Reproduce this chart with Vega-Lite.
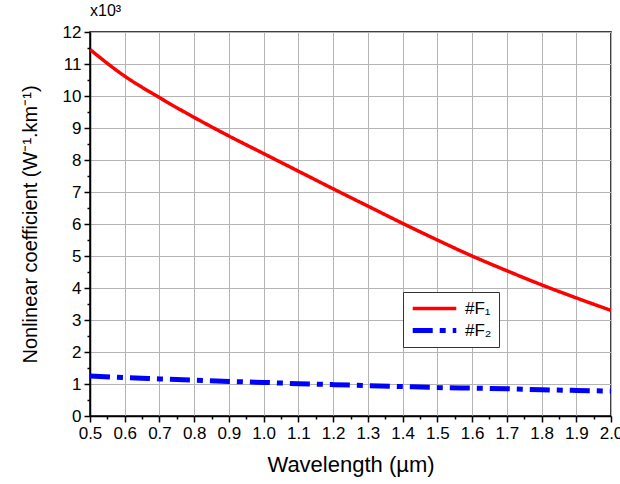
{
  "$schema": "https://vega.github.io/schema/vega-lite/v6.json",
  "width": 521,
  "height": 384,
  "padding": {"left": 20, "top": 3, "right": 0, "bottom": 2},
  "background": "white",
  "config": {
    "font": "Liberation Sans",
    "view": {"stroke": "black", "strokeWidth": 1.5}
  },
  "title": {"text": "x10³", "anchor": "start", "frame": "group", "fontSize": 16, "fontWeight": "normal", "offset": 4, "font": "Liberation Sans", "color": "black"},
  "data": {
    "values": [
      {"w": 0.5, "v": 11.45, "s": "#F₁"},
      {"w": 0.6, "v": 10.62, "s": "#F₁"},
      {"w": 0.7, "v": 9.95, "s": "#F₁"},
      {"w": 0.8, "v": 9.33, "s": "#F₁"},
      {"w": 0.9, "v": 8.75, "s": "#F₁"},
      {"w": 1.0, "v": 8.2, "s": "#F₁"},
      {"w": 1.1, "v": 7.65, "s": "#F₁"},
      {"w": 1.2, "v": 7.1, "s": "#F₁"},
      {"w": 1.3, "v": 6.56, "s": "#F₁"},
      {"w": 1.4, "v": 6.02, "s": "#F₁"},
      {"w": 1.5, "v": 5.5, "s": "#F₁"},
      {"w": 1.6, "v": 5.0, "s": "#F₁"},
      {"w": 1.7, "v": 4.54, "s": "#F₁"},
      {"w": 1.8, "v": 4.1, "s": "#F₁"},
      {"w": 1.9, "v": 3.69, "s": "#F₁"},
      {"w": 2.0, "v": 3.3, "s": "#F₁"},
      {"w": 0.5, "v": 1.25, "s": "#F₂"},
      {"w": 0.6, "v": 1.2, "s": "#F₂"},
      {"w": 0.7, "v": 1.16, "s": "#F₂"},
      {"w": 0.8, "v": 1.12, "s": "#F₂"},
      {"w": 0.9, "v": 1.08, "s": "#F₂"},
      {"w": 1.0, "v": 1.05, "s": "#F₂"},
      {"w": 1.1, "v": 1.01, "s": "#F₂"},
      {"w": 1.2, "v": 0.98, "s": "#F₂"},
      {"w": 1.3, "v": 0.95, "s": "#F₂"},
      {"w": 1.4, "v": 0.92, "s": "#F₂"},
      {"w": 1.5, "v": 0.89, "s": "#F₂"},
      {"w": 1.6, "v": 0.87, "s": "#F₂"},
      {"w": 1.7, "v": 0.85, "s": "#F₂"},
      {"w": 1.8, "v": 0.82, "s": "#F₂"},
      {"w": 1.9, "v": 0.8, "s": "#F₂"},
      {"w": 2.0, "v": 0.78, "s": "#F₂"}
    ]
  },
  "mark": {"type": "line", "interpolate": "monotone", "clip": true},
  "encoding": {
    "x": {
      "field": "w", "type": "quantitative",
      "scale": {"domain": [0.5, 2.0], "nice": false, "zero": false},
      "axis": {
        "title": "Wavelength (µm)",
        "titleFontSize": 22, "titleFontWeight": "normal", "titleColor": "black", "titlePadding": 13,
        "values": [0.5,0.55,0.6,0.65,0.7,0.75,0.8,0.85,0.9,0.95,1.0,1.05,1.1,1.15,1.2,1.25,1.3,1.35,1.4,1.45,1.5,1.55,1.6,1.65,1.7,1.75,1.8,1.85,1.9,1.95,2.0],
        "labelExpr": "abs(datum.value*10 - round(datum.value*10)) > 0.01 ? '' : format(datum.value, '.1f')",
        "labelFontSize": 17, "labelColor": "black", "labelPadding": 3, "labelOverlap": false, "labelFlush": false,
        "domainColor": "black", "domainWidth": 1.5,
        "tickColor": "black", "tickWidth": 1.5,
        "tickSize": {"condition": {"test": "abs(datum.value*10 - round(datum.value*10)) > 0.01", "value": 3}, "value": 6},
        "grid": true, "gridColor": "#b4b4b4", "gridWidth": 1,
        "gridOpacity": {"condition": {"test": "abs(datum.value*10 - round(datum.value*10)) > 0.01", "value": 0}, "value": 1}
      }
    },
    "y": {
      "field": "v", "type": "quantitative",
      "scale": {"domain": [0, 12], "nice": false},
      "axis": {
        "title": "Nonlinear coefficient (W⁻¹.km⁻¹)",
        "titleFontSize": 20, "titleFontWeight": "normal", "titleColor": "black", "titlePadding": 22,
        "values": [0,0.5,1,1.5,2,2.5,3,3.5,4,4.5,5,5.5,6,6.5,7,7.5,8,8.5,9,9.5,10,10.5,11,11.5,12],
        "labelExpr": "datum.value % 1 != 0 ? '' : format(datum.value, 'd')",
        "labelFontSize": 17, "labelColor": "black", "labelPadding": 3, "labelOverlap": false, "labelFlush": false,
        "domainColor": "black", "domainWidth": 1.5,
        "tickColor": "black", "tickWidth": 1.5,
        "tickSize": {"condition": {"test": "datum.value % 1 != 0", "value": 3}, "value": 6},
        "grid": true, "gridColor": "#b4b4b4", "gridWidth": 1,
        "gridOpacity": {"condition": {"test": "datum.value % 1 != 0", "value": 0}, "value": 1}
      }
    },
    "color": {
      "field": "s", "type": "nominal",
      "scale": {"domain": ["#F₁", "#F₂"], "range": ["#ff0000", "#0000ff"]},
      "legend": {
        "title": null, "orient": "none", "legendX": 313, "legendY": 260,
        "fillColor": "white", "strokeColor": "#333333", "padding": 7,
        "symbolType": "stroke", "symbolSize": 1900, "symbolStrokeWidth": 3.5,
        "clipHeight": 19,
        "labelFontSize": 17, "labelColor": "black", "rowPadding": 3, "labelOffset": 6
      }
    },
    "strokeDash": {
      "field": "s", "type": "nominal",
      "scale": {"domain": ["#F₁", "#F₂"], "range": [[1, 0], [20, 7, 6, 7]]},
      "legend": {
        "title": null, "orient": "none", "legendX": 313, "legendY": 260,
        "fillColor": "white", "strokeColor": "#333333", "padding": 7,
        "symbolType": "stroke", "symbolSize": 1900, "symbolStrokeWidth": 3.5,
        "clipHeight": 19,
        "labelFontSize": 17, "labelColor": "black", "rowPadding": 3, "labelOffset": 6
      }
    },
    "strokeWidth": {
      "field": "s", "type": "nominal",
      "scale": {"domain": ["#F₁", "#F₂"], "range": [3.5, 5]},
      "legend": null
    }
  }
}
